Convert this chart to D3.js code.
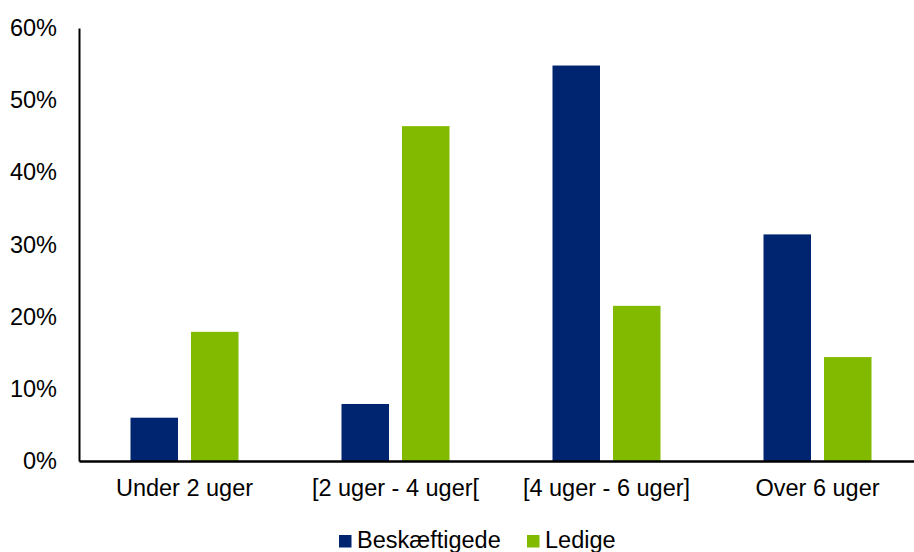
<!DOCTYPE html>
<html>
<head>
<meta charset="utf-8">
<script src="https://cdn.jsdelivr.net/npm/d3@7"></script>
<style>
  html, body { margin: 0; padding: 0; background: #fff; }
  svg { display: block; font-family: "Liberation Sans", Arial, sans-serif; }
</style>
</head>
<body>
<svg id="chart" width="914" height="552"></svg>
<script>
// Duration groups and share of respondents in each group
const categories = ["Under 2 uger", "[2 uger - 4 uger[", "[4 uger - 6 uger]", "Over 6 uger"];
const seriesNames = ["Beskæftigede", "Ledige"];
const beskaeftigede = [0.06, 0.079, 0.548, 0.314];
const ledige = [0.179, 0.464, 0.215, 0.144];
const yTicks = [0, 0.1, 0.2, 0.3, 0.4, 0.5, 0.6];
const colors = ["#002570", "#82BA00"];

const svg = d3.select("#chart");
const plotLeft = 79, plotTop = 28, plotBottom = 461, plotRight = 923;
const axisFont = 23.5, legendFont = 23.5;

const x = d3.scaleBand().domain(categories).range([plotLeft, plotRight]).paddingInner(0).paddingOuter(0);
const y = d3.scaleLinear().domain([0, 0.6]).range([plotBottom, plotTop]);

const rows = categories.map((c, i) => ({ cat: c, vals: [beskaeftigede[i], ledige[i]] }));

const barW = 47.5, gap = 13;
const groups = svg.append("g").selectAll("g").data(rows).join("g")
  .attr("transform", d => `translate(${x(d.cat) + x.bandwidth() / 2},0)`);

groups.selectAll("rect").data(d => d.vals.map((v, j) => ({ v, j }))).join("rect")
  .attr("x", d => d.j === 0 ? -gap / 2 - barW : gap / 2)
  .attr("width", barW)
  .attr("y", d => y(d.v))
  .attr("height", d => y(0) - y(d.v))
  .attr("fill", d => colors[d.j]);

// Y axis: line only, no tick marks
const yAxis = svg.append("g").attr("transform", `translate(${plotLeft},0)`)
  .call(d3.axisLeft(y).tickValues(yTicks).tickFormat(d3.format(".0%")).tickSize(0).tickPadding(22));
yAxis.select(".domain").attr("stroke", "#000").attr("stroke-width", 2);
yAxis.selectAll("text").attr("font-size", axisFont).attr("fill", "#000")
  .attr("font-family", "Liberation Sans, Arial, sans-serif");

// X axis
const xAxis = svg.append("g").attr("transform", `translate(0,${plotBottom})`)
  .call(d3.axisBottom(x).tickSize(0).tickPadding(18));
xAxis.select(".domain").attr("stroke", "#000").attr("stroke-width", 2.5);
xAxis.selectAll("text").attr("font-size", axisFont).attr("fill", "#000")
  .attr("font-family", "Liberation Sans, Arial, sans-serif");

// Legend
const legendX = [339, 527];
const legend = svg.append("g").selectAll("g").data(seriesNames).join("g")
  .attr("transform", (d, i) => `translate(${legendX[i]},535)`);
legend.append("rect").attr("width", 12.5).attr("height", 12.5).attr("fill", (d, i) => colors[i]);
legend.append("text").attr("x", 18).attr("y", 12.5)
  .attr("font-size", legendFont).attr("fill", "#000").text(d => d);
</script>
</body>
</html>
